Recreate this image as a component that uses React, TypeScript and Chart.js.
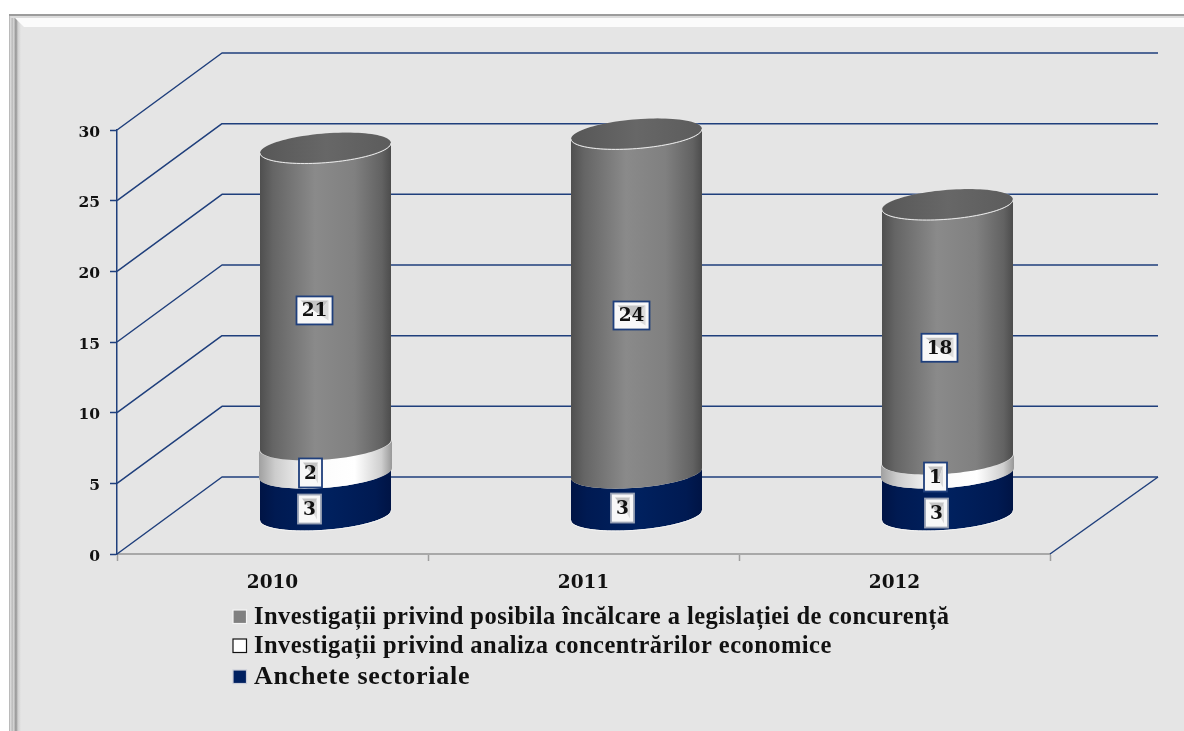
import React, { useEffect, useRef } from "react";
import { Chart, registerables } from "chart.js";

Chart.register(...registerables);

const categories = ["2010", "2011", "2012"];
const sectoriale = [3, 3, 3];
const concentrari = [2, 0, 1];
const concurenta = [21, 24, 18];
const seriesNames = [
  "Anchete sectoriale",
  "Investigații privind analiza concentrărilor economice",
  "Investigații privind posibila încălcare a legislației de concurență",
];

const NAVY = "#1f3f7c";
const SERIF = "'DejaVu Serif'";
const LEGEND_FONT = "'Liberation Serif'";
const DX = 105, DY = -77;
const CX = 53, CY = -38.5, RX = 65.5, RY = 14.7, SK = 5;

// per dataset / per category nudges of the value boxes
const NUDGE = [
  [[-16, 15], [-14, 14], [-11, 19]],
  [[-15, 14], [0, 0], [-12, 11]],
  [[-11, 14], [-5, 12], [-8, 16]],
];

function stops(g: CanvasGradient, list: [number, string][]) {
  list.forEach(([p, c]) => g.addColorStop(p, c));
  return g;
}

function frontArc(ctx: CanvasRenderingContext2D, cx: number, cy: number, rx: number, reverse: boolean) {
  const N = 48;
  for (let i = 0; i <= N; i++) {
    const t = reverse ? (Math.PI * i) / N : Math.PI - (Math.PI * i) / N;
    const x = cx + rx * Math.cos(t);
    const y = cy + RY * Math.sin(t) - SK * Math.cos(t);
    ctx.lineTo(x, y);
  }
}

function ellipse(ctx: CanvasRenderingContext2D, cx: number, cy: number, rx: number) {
  const N = 96;
  ctx.beginPath();
  for (let i = 0; i <= N; i++) {
    const t = (2 * Math.PI * i) / N;
    ctx.lineTo(cx + rx * Math.cos(t), cy + RY * Math.sin(t) - SK * Math.cos(t));
  }
  ctx.closePath();
}

function bodyGradient(ctx: CanvasRenderingContext2D, cx: number, rx: number, kind: number) {
  const g = ctx.createLinearGradient(cx - rx, 0, cx + rx, 0);
  if (kind === 0)
    return stops(g, [[0, "#001445"], [0.12, "#001a52"], [0.5, "#00215f"], [0.88, "#001a52"], [1, "#001445"]]);
  if (kind === 1)
    return stops(g, [[0, "#a0a0a0"], [0.12, "#cccccc"], [0.4, "#fbfbfb"], [0.72, "#ffffff"], [0.92, "#cfcfcf"], [1, "#989898"]]);
  return stops(g, [[0, "#4f4f4f"], [0.1, "#656565"], [0.42, "#8a8a8a"], [0.72, "#808080"], [0.93, "#626262"], [1, "#4c4c4c"]]);
}

const backdrop = {
  id: "backdrop",
  beforeDraw(chart: any) {
    const { ctx, width, height } = chart;
    ctx.save();
    ctx.fillStyle = "#ffffff";
    ctx.fillRect(0, 0, width, height);
    ctx.fillStyle = "#e5e5e5";
    ctx.fillRect(9, 14, width - 9, height - 14);
    // left bevel stripes
    const g = ctx.createLinearGradient(9, 0, 21, 0);
    stops(g, [[0, "#a0a0a0"], [0.1, "#dedede"], [0.28, "#bcbcbc"], [0.42, "#dcdcdc"], [0.5, "#9c9c9c"], [0.62, "#a2a2a2"], [0.75, "#d0d0d0"], [1, "#e5e5e5"]]);
    ctx.fillStyle = g;
    ctx.fillRect(9, 14, 12, height - 14);
    // top bevel
    ctx.fillStyle = "#fbfbfb";
    ctx.beginPath();
    ctx.moveTo(15, 18);
    ctx.lineTo(width, 18);
    ctx.lineTo(width, 27);
    ctx.lineTo(24, 27);
    ctx.closePath();
    ctx.fill();
    ctx.fillStyle = "#9c9c9c";
    ctx.fillRect(9, 14, width - 9, 2);
    ctx.fillStyle = "#dcdcdc";
    ctx.fillRect(11, 16, width - 11, 2);
    ctx.restore();
  },
};

const walls = {
  id: "walls",
  afterLayout(chart: any) {
    // the reference's value labels sit a little below their tick marks
    const y = chart.scales.y;
    if (y.__nudged) return;
    y.__nudged = true;
    const draw = y.drawLabels;
    y.drawLabels = function (area: any) {
      chart.ctx.save();
      chart.ctx.translate(0, 2.5);
      draw.call(this, area);
      chart.ctx.restore();
    };
  },
  beforeDatasetsDraw(chart: any) {
    const { ctx, scales } = chart;
    const y = scales.y;
    const x0 = chart.chartArea.left;
    const x1 = chart.chartArea.right;
    ctx.save();
    ctx.strokeStyle = NAVY;
    ctx.lineWidth = 1.5;
    ctx.lineJoin = "round";
    y.ticks.forEach((t: any) => {
      const py = y.getPixelForValue(t.value);
      ctx.beginPath();
      ctx.moveTo(x0, py);
      ctx.lineTo(x0 + DX, py + DY);
      ctx.lineTo(x1 + DX + 3, py + DY);
      ctx.stroke();
    });
    const py0 = y.getPixelForValue(0);
    ctx.beginPath();
    ctx.moveTo(x1, py0);
    ctx.lineTo(x1 + DX + 3, py0 + DY);
    ctx.stroke();
    ctx.restore();
  },
};

const cylinders = {
  id: "cylinders",
  afterDatasetsDraw(chart: any) {
    const { ctx } = chart;
    const metas = chart.data.datasets.map((_: any, i: number) => chart.getDatasetMeta(i));
    ctx.save();
    categories.forEach((_, c) => {
      let topY = 0;
      let cx = 0;
      metas.forEach((meta: any, d: number) => {
        const bar = meta.data[c];
        const value = chart.data.datasets[d].data[c];
        cx = bar.x + CX;
        if (!value) return;
        const rx = d === 1 ? RX + 1 : RX;
        const yTop = bar.y + CY;
        const yBase = bar.base + CY;
        ctx.beginPath();
        frontArc(ctx, cx, yTop, rx, false);
        frontArc(ctx, cx, yBase, rx, true);
        ctx.closePath();
        ctx.fillStyle = bodyGradient(ctx, cx, rx, d);
        ctx.fill();
        if (d === 0) {
          ctx.beginPath();
          frontArc(ctx, cx, yBase + 0.5, rx, false);
          ctx.strokeStyle = "#f4f4f4";
          ctx.lineWidth = 1;
          ctx.stroke();
        }
        topY = yTop;
      });
      const g = ctx.createLinearGradient(cx - RX, 0, cx + RX, 0);
      stops(g, [[0, "#575757"], [0.5, "#676767"], [1, "#5c5c5c"]]);
      ellipse(ctx, cx, topY, RX);
      ctx.fillStyle = g;
      ctx.fill();
      ctx.beginPath();
      frontArc(ctx, cx, topY, RX, false);
      ctx.strokeStyle = "#e8e8e8";
      ctx.lineWidth = 1;
      ctx.stroke();
      ellipse(ctx, cx, topY - 0.3, RX);
      ctx.strokeStyle = "rgba(235,235,235,0.35)";
      ctx.lineWidth = 0.6;
      ctx.stroke();
    });
    // value boxes
    ctx.font = `bold 18.5px ${SERIF}`;
    ctx.textAlign = "center";
    ctx.textBaseline = "middle";
    metas.forEach((meta: any, d: number) => {
      categories.forEach((_, c) => {
        const value = chart.data.datasets[d].data[c];
        if (!value) return;
        const bar = meta.data[c];
        const px = bar.x + CX + NUDGE[d][c][0];
        const py = (bar.y + bar.base) / 2 + CY + NUDGE[d][c][1];
        const text = String(value);
        const w = text.length > 1 ? 36 : 23;
        const h = text.length > 1 ? 28 : 29;
        const l = px - w / 2, t = py - h / 2;
        const b = 4;
        ctx.fillStyle = "#f8f8f8";
        ctx.fillRect(l, t, w, h);
        ctx.fillStyle = "#c4c4c4";
        ctx.beginPath();
        ctx.moveTo(l + b, t + b);
        ctx.lineTo(l + w - b, t + b);
        ctx.lineTo(l + w / 2 + 3, t + h * 0.6);
        ctx.closePath();
        ctx.fill();
        ctx.beginPath();
        ctx.moveTo(l + w - b, t + b);
        ctx.lineTo(l + w - b, t + h - b);
        ctx.lineTo(l + w / 2 + 3, t + h * 0.6);
        ctx.closePath();
        ctx.fillStyle = "#dcdcdc";
        ctx.fill();
        ctx.strokeStyle = d === 0 ? "#9aa3b5" : NAVY;
        ctx.lineWidth = 1.8;
        ctx.strokeRect(l, t, w, h);
        ctx.fillStyle = "#111111";
        ctx.fillText(text, px, py + 1);
      });
    });
    ctx.restore();
  },
};

const legendBlock = {
  id: "legendBlock",
  afterDraw(chart: any) {
    const { ctx } = chart;
    const rows = [
      { i: 2, y: 624, size: 24.5, fill: "#808080", line: "#f4f4f4", spacing: "0.45px" },
      { i: 1, y: 653, size: 24.5, fill: "#ffffff", line: "#111111", spacing: "0.45px" },
      { i: 0, y: 684, size: 26, fill: "#002060", line: "#c8ccd8", spacing: "0.75px" },
    ];
    ctx.save();
    ctx.textAlign = "left";
    ctx.textBaseline = "alphabetic";
    rows.forEach((r) => {
      ctx.fillStyle = r.fill;
      ctx.fillRect(233, r.y - 14, 13.5, 13.5);
      ctx.strokeStyle = r.line;
      ctx.lineWidth = 1.2;
      ctx.strokeRect(233, r.y - 14, 13.5, 13.5);
      ctx.fillStyle = "#111111";
      ctx.font = `bold ${r.size}px ${LEGEND_FONT}`;
      (ctx as any).letterSpacing = r.spacing;
      ctx.fillText(chart.data.datasets[r.i].label, 254, r.y);
    });
    (ctx as any).letterSpacing = "0px";
    ctx.restore();
  },
};

export default function App() {
  const ref = useRef<HTMLCanvasElement>(null);
  useEffect(() => {
    const chart = new Chart(ref.current as HTMLCanvasElement, {
      type: "bar",
      data: {
        labels: categories,
        datasets: [
          { label: seriesNames[0], data: sectoriale, backgroundColor: "transparent" },
          { label: seriesNames[1], data: concentrari, backgroundColor: "transparent" },
          { label: seriesNames[2], data: concurenta, backgroundColor: "transparent" },
        ],
      },
      options: {
        responsive: false,
        animation: false,
        layout: { padding: { top: 130, right: 134, left: 0, bottom: 0 } },
        plugins: { legend: { display: false }, tooltip: { enabled: false } },
        scales: {
          x: {
            stacked: true,
            afterFit: (s: any) => { s.height = 177; },
            grid: { drawOnChartArea: false, color: "#9e9e9e", tickLength: 7, tickWidth: 1.5 },
            border: { color: "#a8a8a8", width: 2 },
            ticks: { color: "#111111", font: { family: SERIF, weight: "bold", size: 18.5 }, padding: 11, maxRotation: 0 },
          },
          y: {
            stacked: true,
            min: 0,
            max: 30,
            afterFit: (s: any) => { s.width = 117; },
            grid: { drawOnChartArea: false, color: NAVY, tickLength: 7, tickWidth: 1.5 },
            border: { color: NAVY, width: 1.5 },
            ticks: { stepSize: 5, color: "#111111", font: { family: SERIF, weight: "bold", size: 15.5 }, padding: 10 },
          },
        },
      },
      plugins: [backdrop, walls, cylinders, legendBlock],
    } as any);
    return () => chart.destroy();
  }, []);
  return (
    <div style={{ position: "fixed", left: 0, top: 0 }}>
      <canvas ref={ref} width={1184} height={731} style={{ display: "block" }} />
    </div>
  );
}
